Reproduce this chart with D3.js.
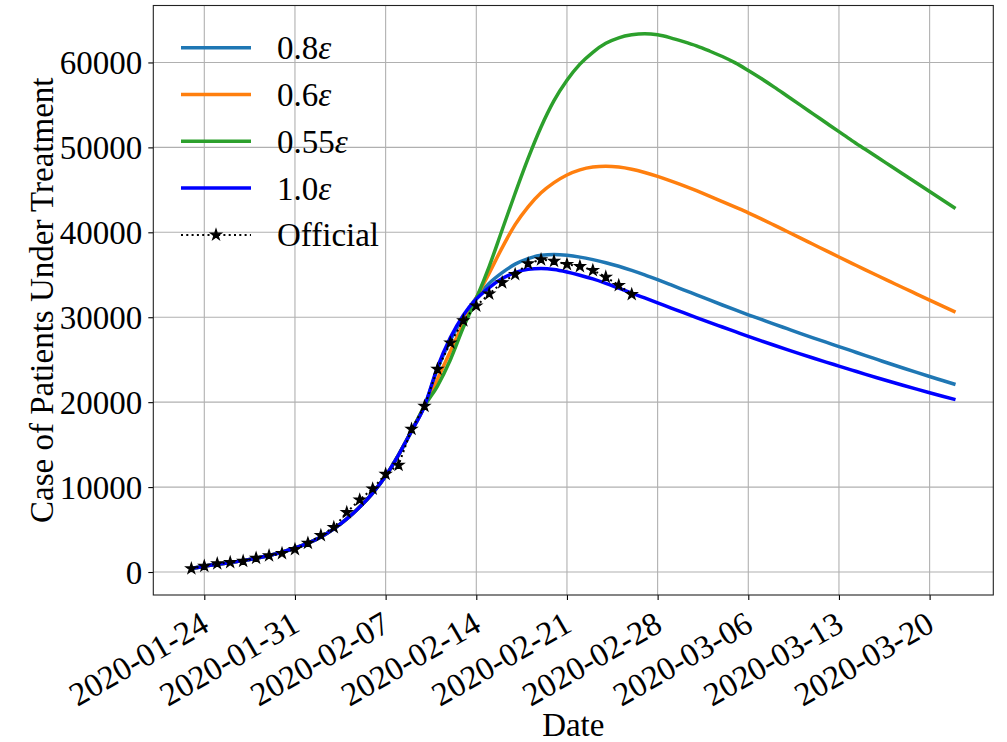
<!DOCTYPE html>
<html>
<head>
<meta charset="utf-8">
<script src="https://cdn.jsdelivr.net/npm/d3@7"></script>
<style>
  body { margin: 0; background: #fff; }
  svg { display: block; }
</style>
</head>
<body>
<svg id="chart" width="1007" height="742"></svg>
<script>
const FONT = "Liberation Serif";

// daily values, first day 2020-01-23
const startDate = "2020-01-23";

// Official counts, 2020-01-23 .. 2020-02-26
const official = [390, 706, 980, 1137, 1290, 1647, 1920, 2196, 2667, 3410, 4314, 5255,
  7020, 8510, 9804, 11530, 12588, 16823, 19530, 23880, 26980, 29610, 31330, 32750,
  34080, 35060, 36310, 36790, 36620, 36235, 36000, 35530, 34740, 33765, 32700];

// model runs share the fitted part up to 2020-02-10
const sharedRise = [400, 680, 900, 1110, 1340, 1620, 1950, 2350, 2830, 3400, 4130, 5080,
  6250, 7650, 9300, 11300, 13800, 16600, 19530];

// 2020-02-11 .. 2020-03-22 for each epsilon scaling
const tail08 = [23900, 27300, 30000, 32300, 34000, 35250, 36250, 36900, 37300, 37380,
  37290, 37080, 36780, 36420, 36000, 35520, 34990, 34420, 33830, 33230, 32630, 32030,
  31440, 30860, 30290, 29740, 29190, 28650, 28110, 27580, 27060, 26550, 26030, 25510,
  25000, 24490, 23990, 23500, 23020, 22550, 22080];
const tail06 = [22700, 26000, 29300, 32300, 35200, 38200, 40900, 43000, 44650, 45850,
  46750, 47350, 47680, 47780, 47680, 47420, 47040, 46580, 46060, 45500, 44900, 44270,
  43620, 42960, 42290, 41580, 40840, 40090, 39340, 38590, 37840, 37090, 36350, 35610,
  34880, 34160, 33440, 32730, 32020, 31310, 30600];
const tail055 = [21900, 25000, 28800, 32200, 36000, 40300, 44600, 48700, 52400, 55500,
  57900, 59800, 61200, 62250, 62900, 63250, 63380, 63250, 62900, 62450, 61950, 61350,
  60700, 59950, 59050, 58100, 57100, 56050, 55000, 53950, 52900, 51850, 50800, 49800,
  48800, 47800, 46800, 45800, 44800, 43800, 42800];
const tail10 = [24100, 27600, 30250, 32150, 33500, 34550, 35250, 35650, 35730, 35620,
  35330, 34950, 34510, 33990, 33420, 32850, 32270, 31690, 31110, 30530, 29960, 29400,
  28850, 28300, 27750, 27220, 26700, 26190, 25690, 25200, 24720, 24250, 23780, 23310,
  22850, 22400, 21960, 21530, 21110, 20700, 20300];

const seriesNames = ["0.8", "0.6", "0.55", "1.0"];
const seriesColors = ["#1f77b4", "#ff7f0e", "#2ca02c", "#0000ff"];
const seriesTails = [tail08, tail06, tail055, tail10];

const xTicks = ["2020-01-24", "2020-01-31", "2020-02-07", "2020-02-14", "2020-02-21",
  "2020-02-28", "2020-03-06", "2020-03-13", "2020-03-20"];
const yTicks = [0, 10000, 20000, 30000, 40000, 50000, 60000];

const parse = d3.utcParse("%Y-%m-%d");
const day0 = parse(startDate);
const toPoints = vals => vals.map((v, i) => ({ date: d3.utcDay.offset(day0, i), v }));

const width = 1007, height = 742;
const margin = { top: 5.5, right: 13.7, bottom: 147, left: 153.3 };
const svg = d3.select("#chart");

const x = d3.scaleUtc()
  .domain([new Date(Date.UTC(2020, 0, 20, 1, 30)), new Date(Date.UTC(2020, 2, 24, 22, 0))])
  .range([margin.left, width - margin.right]);
const y = d3.scaleLinear()
  .domain([-2706, 66706])
  .range([height - margin.bottom, margin.top]);

svg.append("rect").attr("width", width).attr("height", height).attr("fill", "#fff");

// grid
const grid = svg.append("g").attr("stroke", "#b0b0b0").attr("stroke-width", 1.1);
xTicks.forEach(t => {
  grid.append("line").attr("x1", x(parse(t))).attr("x2", x(parse(t)))
    .attr("y1", y.range()[0]).attr("y2", y.range()[1]);
});
yTicks.forEach(t => {
  grid.append("line").attr("x1", x.range()[0]).attr("x2", x.range()[1])
    .attr("y1", y(t)).attr("y2", y(t));
});

svg.append("clipPath").attr("id", "plot-clip").append("rect")
  .attr("x", x.range()[0]).attr("y", y.range()[1])
  .attr("width", x.range()[1] - x.range()[0]).attr("height", y.range()[0] - y.range()[1]);

const plot = svg.append("g").attr("clip-path", "url(#plot-clip)");
const line = d3.line().x(d => x(d.date)).y(d => y(d.v)).curve(d3.curveMonotoneX);

seriesTails.forEach((tail, i) => {
  plot.append("path")
    .datum(toPoints(sharedRise.concat(tail)))
    .attr("fill", "none")
    .attr("stroke", seriesColors[i])
    .attr("stroke-width", 3.5)
    .attr("stroke-linejoin", "round")
    .attr("d", line);
});

const officialPts = toPoints(official);
plot.append("path")
  .datum(officialPts)
  .attr("fill", "none")
  .attr("stroke", "#000")
  .attr("stroke-width", 2)
  .attr("stroke-dasharray", "2,3.3")
  .attr("d", d3.line().x(d => x(d.date)).y(d => y(d.v)));

const star = d3.symbol().type(d3.symbolStar).size(36);
plot.selectAll(".star").data(officialPts).join("path")
  .attr("class", "star")
  .attr("transform", d => `translate(${x(d.date)},${y(d.v)})`)
  .attr("d", star)
  .attr("fill", "#000").attr("stroke", "#000").attr("stroke-width", 1.2)
  .attr("stroke-linejoin", "miter");

// axes
const xAxis = svg.append("g")
  .attr("transform", `translate(0,${y.range()[0]})`)
  .call(d3.axisBottom(x).tickValues(xTicks.map(parse)).tickFormat(d3.utcFormat("%Y-%m-%d")).tickSize(5).tickSizeOuter(0));
xAxis.selectAll("text")
  .attr("x", 0).attr("y", 0).attr("dy", null)
  .attr("text-anchor", "end")
  .attr("transform", "translate(6,35) rotate(-30)")
  .attr("font-size", 33).attr("fill", "#000")
  .style("font-family", FONT);

const yAxis = svg.append("g")
  .attr("transform", `translate(${x.range()[0]},0)`)
  .call(d3.axisLeft(y).tickValues(yTicks).tickFormat(d3.format("d")).tickSize(5).tickPadding(6).tickSizeOuter(0));
yAxis.selectAll("text").attr("font-size", 33).attr("fill", "#000").attr("dy", "0.34em")
  .style("font-family", FONT);

[xAxis, yAxis].forEach(a => {
  a.select(".domain").remove();
  a.selectAll(".tick line").attr("stroke", "#000").attr("stroke-width", 1.1);
});

svg.append("rect")
  .attr("x", x.range()[0]).attr("y", y.range()[1])
  .attr("width", x.range()[1] - x.range()[0]).attr("height", y.range()[0] - y.range()[1])
  .attr("fill", "none").attr("stroke", "#222").attr("stroke-width", 1.1);

svg.append("text")
  .attr("x", (x.range()[0] + x.range()[1]) / 2).attr("y", 736)
  .attr("text-anchor", "middle").attr("font-size", 33)
  .style("font-family", FONT)
  .text("Date");

svg.append("text")
  .attr("transform", `translate(53,${(y.range()[0] + y.range()[1]) / 2}) rotate(-90)`)
  .attr("text-anchor", "middle").attr("font-size", 33)
  .style("font-family", FONT)
  .text("Case of Patients Under Treatment");

// legend
const legend = svg.append("g").attr("transform", "translate(181,47.7)");
const rowH = 46.8;
seriesNames.forEach((name, i) => {
  const row = legend.append("g").attr("transform", `translate(0,${i * rowH})`);
  row.append("line").attr("x1", 0).attr("x2", 70).attr("y1", 0).attr("y2", 0)
    .attr("stroke", seriesColors[i]).attr("stroke-width", 3.5);
  const t = row.append("text").attr("x", 96).attr("y", 11.5).attr("font-size", 33)
    .style("font-family", FONT);
  t.append("tspan").text(name);
  t.append("tspan").attr("font-style", "italic").text("ε");
});
const offRow = legend.append("g").attr("transform", `translate(0,${4 * rowH})`);
offRow.append("line").attr("x1", 0).attr("x2", 70).attr("y1", 0).attr("y2", 0)
  .attr("stroke", "#000").attr("stroke-width", 2).attr("stroke-dasharray", "2,3.3");
offRow.append("path").attr("transform", "translate(35,0)").attr("d", star)
  .attr("fill", "#000").attr("stroke", "#000").attr("stroke-width", 1.2);
offRow.append("text").attr("x", 96).attr("y", 11.5).attr("font-size", 33)
  .style("font-family", FONT).text("Official");
</script>
</body>
</html>
